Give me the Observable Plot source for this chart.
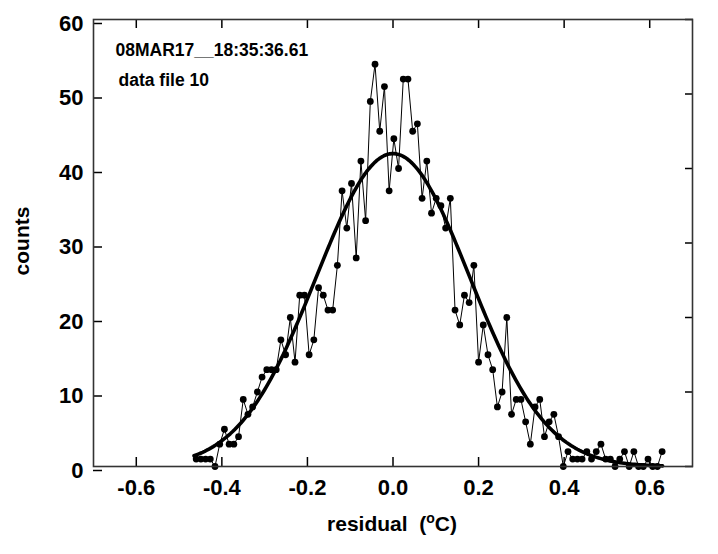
<!DOCTYPE html>
<html><head><meta charset="utf-8">
<script src="https://cdn.jsdelivr.net/npm/d3@7"></script>
<script src="https://cdn.jsdelivr.net/npm/@observablehq/plot@0.6"></script>
<style>body{margin:0;background:#fff} svg{display:block}</style>
</head><body><div id="chart"></div>
<script>
const residual = [
 -0.460,-0.449,-0.438,-0.427,-0.416,-0.405,-0.394,-0.383,-0.372,-0.361,
 -0.350,-0.339,-0.328,-0.317,-0.306,-0.295,-0.284,-0.273,-0.262,-0.251,
 -0.240,-0.229,-0.218,-0.207,-0.196,-0.185,-0.174,-0.163,-0.152,-0.141,
 -0.130,-0.119,-0.108,-0.097,-0.086,-0.075,-0.064,-0.053,-0.042,-0.031,
 -0.020,-0.009,0.002,0.013,0.024,0.035,0.046,0.057,0.068,0.079,
 0.090,0.101,0.112,0.123,0.134,0.145,0.156,0.167,0.178,0.189,
 0.200,0.211,0.222,0.233,0.244,0.255,0.266,0.277,0.288,0.299,
 0.310,0.321,0.332,0.343,0.354,0.365,0.376,0.387,0.398,0.409,
 0.420,0.431,0.442,0.453,0.464,0.475,0.486,0.497,0.508,0.519,
 0.530,0.541,0.552,0.563,0.574,0.585,0.596,0.607,0.618,0.629
];
const counts = [
 1,1,1,1,0,3,5,3,3,4,
 9,7,8,10,12,13,13,13,17,15,
 20,14,23,23,15,17,24,23,21,21,
 27,37,32,38,28,41,33,49,54,45,
 51,37,44,40,52,52,45,46,36,41,
 34,36,35,32,36,21,19,23,22,27,
 14,19,15,13,8,10,20,7,9,9,
 6,3,8,9,4,6,7,4,0,2,
 1,1,1,2,1,2,3,1,1,0,
 1,2,0,2,0,0,1,0,0,2
];
const xTicks = [-0.6, -0.4, -0.2, 0, 0.2, 0.4, 0.6];
const xTickLabels = ["-0.6", "-0.4", "-0.2", "0.0", "0.2", "0.4", "0.6"];
const yTicks = [0, 10, 20, 30, 40, 50, 60];
const fitAmplitude = 42;
const fitMean = 0.0;
const fitSigma = 0.179;
const fitRange = [-0.465, 0.63];
const stampText = "08MAR17__18:35:36.61";
const fileText = "data file 10";

const points = residual.map((x, i) => ({x, y: counts[i]}));
const fit = d3.range(0, 221).map(k => {
  const x = fitRange[0] + (fitRange[1] - fitRange[0]) * k / 220;
  return {x, y: fitAmplitude * Math.exp(-((x - fitMean) ** 2) / (2 * fitSigma ** 2))};
});

const font = "'Liberation Sans', Arial, Helvetica, sans-serif";
const plot = Plot.plot({
  width: 718, height: 554,
  marginLeft: 93, marginRight: 26, marginTop: 19, marginBottom: 88,
  style: {fontFamily: font, fontWeight: "bold", background: "#fff", color: "#000", overflow: "visible"},
  x: {domain: [-0.7, 0.7]},
  y: {domain: [0, 60]},
  marks: [
    Plot.line(fit, {x: "x", y: "y", stroke: "#000", strokeWidth: 3.6}),
    Plot.line(points, {x: "x", y: "y", stroke: "#000", strokeWidth: 1}),
    Plot.dot(points, {x: "x", y: "y", r: 3.4, fill: "#000", stroke: "none"}),
    Plot.axisX({anchor: "bottom", ticks: xTicks, tickSize: -9, tickPadding: 22, strokeWidth: 1.5,
      tickFormat: d => xTickLabels[xTicks.indexOf(d)], fontSize: 22, label: null}),
    Plot.axisX({anchor: "top", ticks: xTicks, tickSize: -8, strokeWidth: 1.5, tickFormat: () => "", label: null}),
    Plot.axisY({anchor: "left", ticks: yTicks, tickSize: -9, tickPadding: 19, strokeWidth: 1.5,
      tickFormat: d => String(d), fontSize: 22, dy: 4, label: null}),
    Plot.axisY({anchor: "right", ticks: yTicks, tickSize: -8, strokeWidth: 1.5, tickFormat: () => "", label: null}),
    Plot.frame({stroke: "#333", strokeWidth: 1.6}),
    Plot.text([stampText], {frameAnchor: "top-left", text: d => d, dx: 22, dy: 24, lineAnchor: "top",
      textAnchor: "start", fontSize: 17.5, fontWeight: "bold", fill: "#000"}),
    Plot.text([fileText], {frameAnchor: "top-left", text: d => d, dx: 25, dy: 54, lineAnchor: "top",
      textAnchor: "start", fontSize: 17.5, fontWeight: "bold", fill: "#000"})
  ]
});
document.getElementById("chart").appendChild(plot);

const svg = d3.select(plot);
const xl = svg.append("text")
  .attr("x", 392).attr("y", 531)
  .attr("text-anchor", "middle")
  .attr("font-family", font).attr("font-weight", "bold").attr("font-size", 21)
  .attr("fill", "#000");
xl.append("tspan").text("residual  (");
xl.append("tspan").attr("font-size", 14).attr("dy", -8).text("o");
xl.append("tspan").attr("dy", 8).text("C)");
xl.attr("xml:space", "preserve").style("white-space", "pre");

svg.append("text")
  .attr("transform", "translate(29,241) rotate(-90)")
  .attr("text-anchor", "middle")
  .attr("font-family", font).attr("font-weight", "bold").attr("font-size", 21)
  .attr("fill", "#000")
  .text("counts");
</script>
</body></html>
